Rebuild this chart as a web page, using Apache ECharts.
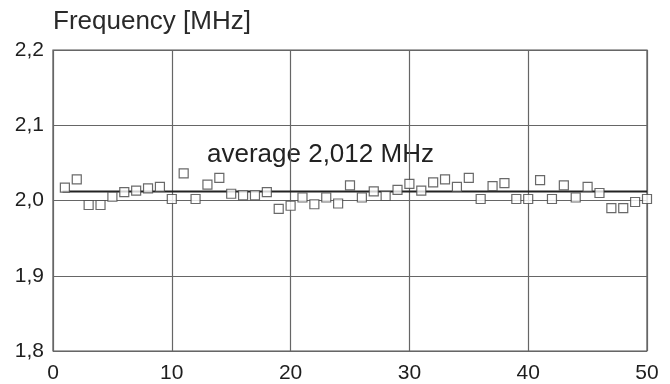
<!DOCTYPE html>
<html><head><meta charset="utf-8">
<script src="https://cdn.jsdelivr.net/npm/echarts@6/dist/echarts.min.js"></script>
<style>html,body{margin:0;padding:0;background:#fff}#c{width:670px;height:384px}</style>
</head><body><div id="c"></div>
<script>
const xValues = [1,2,3,4,5,6,7,8,9,10,11,12,13,14,15,16,17,18,19,20,21,22,23,24,25,26,27,28,29,30,31,32,33,34,35,36,37,38,39,40,41,42,43,44,45,46,47,48,49,50];
const frequency = [2.017,2.028,1.994,1.994,2.005,2.011,2.013,2.016,2.018,2.002,2.036,2.002,2.021,2.030,2.009,2.007,2.007,2.011,1.989,1.993,2.004,1.995,2.004,1.996,2.020,2.004,2.012,2.006,2.014,2.022,2.013,2.024,2.028,2.018,2.030,2.002,2.019,2.023,2.002,2.002,2.027,2.002,2.020,2.004,2.018,2.010,1.990,1.990,1.998,2.002];
const averageValue = 2.012;
const averageLabel = 'average 2,012 MHz';
const yTitle = 'Frequency [MHz]';

const chart = echarts.init(document.getElementById('c'));
const font = 'Liberation Sans, Arial, sans-serif';
const axisColor = '#666';
chart.setOption({
  animation: false,
  grid: {left: 53, right: 23, top: 50, bottom: 32, show: true, borderColor: '#555', borderWidth: 1.2},
  graphic: [
    {type: 'text', left: 53, top: 9, style: {text: yTitle, font: '26px ' + font, fill: '#2a2a2a'}},
    {type: 'text', left: 207, top: 142, style: {text: averageLabel, font: '26px ' + font, fill: '#222'}}
  ],
  xAxis: {
    type: 'value', min: 0, max: 50, interval: 10,
    axisLine: {show: false}, axisTick: {show: false},
    splitLine: {show: true, lineStyle: {color: axisColor, width: 1.2}},
    axisLabel: {color: '#1e1e1e', fontFamily: font, fontSize: 21, margin: 12}
  },
  yAxis: {
    type: 'value', min: 1.8, max: 2.2, interval: 0.1,
    axisLine: {show: false}, axisTick: {show: false},
    splitLine: {show: true, lineStyle: {color: axisColor, width: 1.2}},
    axisLabel: {color: '#1e1e1e', fontFamily: font, fontSize: 21, margin: 9,
      formatter: v => v.toFixed(1).replace('.', ',')}
  },
  series: [
    {
      type: 'scatter', symbol: 'rect', symbolSize: 9,
      itemStyle: {color: '#fff', borderColor: '#444', borderWidth: 1.2},
      data: xValues.map((x, i) => [x, frequency[i]]),
      z: 3
    },
    {
      type: 'line', symbol: 'none', silent: true,
      lineStyle: {color: '#222', width: 2},
      data: [[0.8, averageValue], [50, averageValue]],
      z: 2
    }
  ]
});
</script></body></html>
